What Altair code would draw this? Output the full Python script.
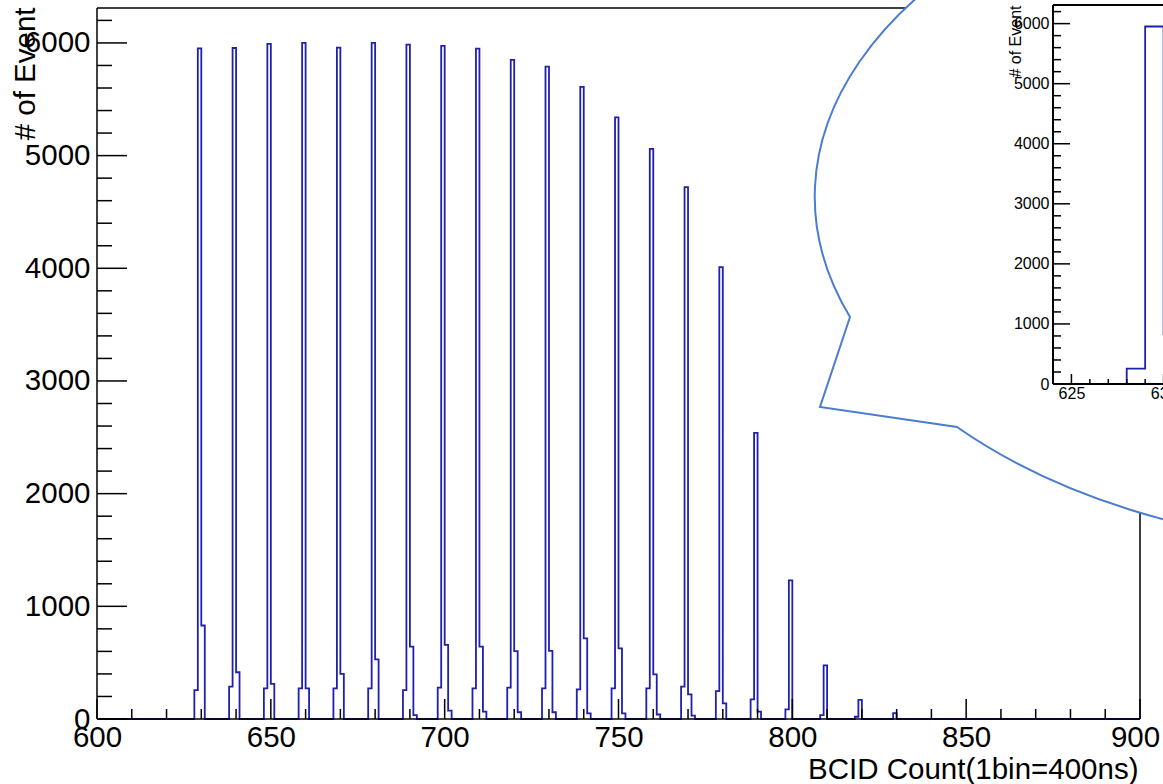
import altair as alt
import pandas as pd

# ---------------- data ----------------
PEAKS = [630, 640, 650, 660, 670, 680, 690, 700, 710, 720, 730,
         740, 750, 760, 770, 780, 790, 800, 810, 820, 830]
LEFT_BIN = [257, 287, 272, 272, 272, 272, 257, 278, 272, 278, 272,
            263, 272, 272, 287, 248, 175, 86, 35, 20, 0]
MAIN_BIN = [5952, 5955, 5991, 6000, 5958, 6000, 5985, 5973, 5949, 5850, 5790,
            5610, 5340, 5060, 4720, 4010, 2540, 1230, 476, 169, 53]
RIGHT_BIN = [830, 415, 311, 272, 400, 530, 642, 657, 642, 603, 605,
             716, 627, 396, 219, 139, 65, 0, 0, 0, 0]
TAIL_BIN = [0, 0, 0, 0, 0, 0, 35, 74, 65, 60, 60,
            50, 50, 40, 30, 0, 0, 0, 0, 0, 0]

X_MAJOR = [600, 650, 700, 750, 800, 850, 900]
X_MINOR = [610, 620, 630, 640, 660, 670, 680, 690, 710, 720, 730, 740,
           760, 770, 780, 790, 810, 820, 830, 840, 860, 870, 880, 890]
Y_MAJOR = [0, 1000, 2000, 3000, 4000, 5000, 6000]
Y_MINOR = [200, 400, 600, 800, 1200, 1400, 1600, 1800, 2200, 2400, 2600, 2800,
           3200, 3400, 3600, 3800, 4200, 4400, 4600, 4800, 5200, 5400, 5600,
           5800, 6200]
INSET_X_MAJOR = [625, 630]
INSET_X_MINOR = [626, 627, 628, 629]

X_TITLE = "BCID Count(1bin=400ns)"
Y_TITLE = "# of Event"

X_DOMAIN = [600, 900]
Y_DOMAIN = [0, 6310]
INSET_X_DOMAIN = [624, 640]

# ---------------- build histogram table ----------------
counts = {k: 0 for k in range(600, 900)}
for p, l, m, r, t in zip(PEAKS, LEFT_BIN, MAIN_BIN, RIGHT_BIN, TAIL_BIN):
    counts[p - 2] = l
    counts[p - 1] = m
    counts[p] = r
    counts[p + 1] = t
rows = [{"x": k, "y": counts[k]} for k in range(600, 900)]
rows.append({"x": 900, "y": counts[899]})
hist_df = pd.DataFrame(rows)

# ---------------- style ----------------
W, H = 1043, 711
FONT = "Liberation Sans"
FS = 29.5
IFS = 16
LINE = "#1f1fb0"
BUBBLE = "#4a7ccf"

IX0, IX1 = 956, 956 + 16 * 18.43
IY0, IY1 = 376, -3


def main_x():
    return alt.Scale(domain=X_DOMAIN, nice=False, zero=False)


def main_y():
    return alt.Scale(domain=Y_DOMAIN, nice=False, zero=False)


def inset_x():
    return alt.Scale(domain=INSET_X_DOMAIN, range=[IX0, IX1], nice=False, zero=False)


def inset_y():
    return alt.Scale(domain=Y_DOMAIN, range=[IY0, IY1], nice=False, zero=False)


# ---------------- main panel ----------------
hist = alt.Chart(hist_df).mark_line(
    interpolate="step-after", color=LINE, strokeWidth=1.8
).encode(
    x=alt.X("x:Q", scale=main_x(), axis=alt.Axis(
        values=X_MAJOR, format="d", labelFont=FONT, labelFontSize=FS,
        labelColor="black", labelPadding=4, labelFlush=False, labelOverlap=False,
        ticks=False, domain=False, grid=False,
        labelOffset={"condition": {"test": "datum.value == 900", "value": -5}, "value": 0},
        title=X_TITLE, titleFont=FONT, titleFontSize=FS, titleFontWeight="normal",
        titleColor="black", titleAlign="right", titleAnchor="end",
        titleBaseline="alphabetic", titleX=1041, titleY=59)),
    y=alt.Y("y:Q", scale=main_y(), axis=alt.Axis(
        values=Y_MAJOR, format="d", labelFont=FONT, labelFontSize=FS,
        labelColor="black", labelPadding=7, labelOverlap=False, labelFlush=False,
        ticks=False, domain=False, grid=False,
        title=Y_TITLE, titleFont=FONT, titleFontSize=FS, titleFontWeight="normal",
        titleColor="black", titleAngle=270, titleAlign="right",
        titleBaseline="alphabetic", titleX=-63, titleY=-1)),
)

frame_df = pd.DataFrame({
    "x1": [X_DOMAIN[0], X_DOMAIN[1], X_DOMAIN[0], X_DOMAIN[0]],
    "x2": [X_DOMAIN[0], X_DOMAIN[1], X_DOMAIN[1], X_DOMAIN[1]],
    "y1": [Y_DOMAIN[0], Y_DOMAIN[0], Y_DOMAIN[1], Y_DOMAIN[0]],
    "y2": [Y_DOMAIN[1], Y_DOMAIN[1], Y_DOMAIN[1], Y_DOMAIN[0]],
})
frame = alt.Chart(frame_df).mark_rule(color="black", strokeWidth=1.5).encode(
    x=alt.X("x1:Q", scale=main_x(), axis=None), x2="x2:Q",
    y=alt.Y("y1:Q", scale=main_y(), axis=None), y2="y2:Q",
)


def xticks(vals, length, scale, base, width=1.5):
    return alt.Chart(pd.DataFrame({"v": vals})).mark_rule(
        color="black", strokeWidth=width
    ).encode(
        x=alt.X("v:Q", scale=scale, axis=None),
        y=alt.value(base), y2=alt.value(base - length),
    )


def yticks(vals, length, scale, base, width=1.5):
    return alt.Chart(pd.DataFrame({"v": vals})).mark_rule(
        color="black", strokeWidth=width
    ).encode(
        y=alt.Y("v:Q", scale=scale, axis=None),
        x=alt.value(base), x2=alt.value(base + length),
    )


# ---------------- callout bubble ----------------
BUBBLE_PATH = "M -550 127 L -580 217 L -443 237 A 587 353 0 1 0 -550 127 Z"
bubble = alt.Chart(pd.DataFrame({"k": [0]})).mark_point(
    shape=BUBBLE_PATH, size=4, filled=True, fill="white", fillOpacity=1,
    stroke=BUBBLE, strokeWidth=2, strokeOpacity=1, opacity=1
).encode(x=alt.value(1303), y=alt.value(182))

# ---------------- inset panel ----------------
inset_hist = alt.Chart(hist_df).transform_filter(
    alt.datum.x >= INSET_X_DOMAIN[0]
).mark_line(interpolate="step-after", color=LINE, strokeWidth=1.8).encode(
    x=alt.X("x:Q", scale=inset_x(), axis=alt.Axis(
        orient="bottom", offset=-(H - IY0), values=INSET_X_MAJOR, format="d",
        labelFont=FONT, labelFontSize=IFS, labelColor="black", labelPadding=1,
        labelFlush=False, labelOverlap=False, ticks=False,
        domain=False, grid=False, title=None, zindex=2)),
    y=alt.Y("y:Q", scale=inset_y(), axis=alt.Axis(
        orient="left", offset=-IX0, values=Y_MAJOR, format="d",
        labelFont=FONT, labelFontSize=IFS, labelColor="black", labelPadding=4,
        labelFlush=False, labelOverlap=False, ticks=False,
        domain=False, grid=False, zindex=2,
        title=Y_TITLE, titleFont=FONT, titleFontSize=16, titleFontWeight="normal",
        titleColor="black", titleAngle=270, titleAlign="right",
        titleBaseline="alphabetic", titleX=-32.5, titleY=-3)),
)

iframe_df = pd.DataFrame({
    "x1": [INSET_X_DOMAIN[0], INSET_X_DOMAIN[0], INSET_X_DOMAIN[0]],
    "x2": [INSET_X_DOMAIN[0], INSET_X_DOMAIN[1], INSET_X_DOMAIN[1]],
    "y1": [Y_DOMAIN[0], Y_DOMAIN[1], Y_DOMAIN[0]],
    "y2": [Y_DOMAIN[1], Y_DOMAIN[1], Y_DOMAIN[0]],
})
iframe = alt.Chart(iframe_df).mark_rule(color="black", strokeWidth=2).encode(
    x=alt.X("x1:Q", scale=inset_x(), axis=None), x2="x2:Q",
    y=alt.Y("y1:Q", scale=inset_y(), axis=None), y2="y2:Q",
)

chart = alt.layer(
    hist, frame,
    xticks(X_MAJOR, 20, main_x(), H), xticks(X_MINOR, 10, main_x(), H),
    yticks(Y_MAJOR, 30, main_y(), 0), yticks(Y_MINOR, 15, main_y(), 0),
    bubble,
    inset_hist, iframe,
    xticks(INSET_X_MAJOR, 10, inset_x(), IY0), xticks(INSET_X_MINOR, 5, inset_x(), IY0),
    yticks(Y_MAJOR, 17, inset_y(), IX0), yticks(Y_MINOR, 8, inset_y(), IX0),
).resolve_scale(
    x="independent", y="independent"
).properties(
    width=W, height=H,
    padding={"left": 97, "top": 8, "right": 23, "bottom": 65},
    autosize=alt.AutoSizeParams(type="none"),
    background="white",
).configure_view(strokeWidth=0)

chart.save("out.html", embed_options={"renderer": "svg", "actions": False})
